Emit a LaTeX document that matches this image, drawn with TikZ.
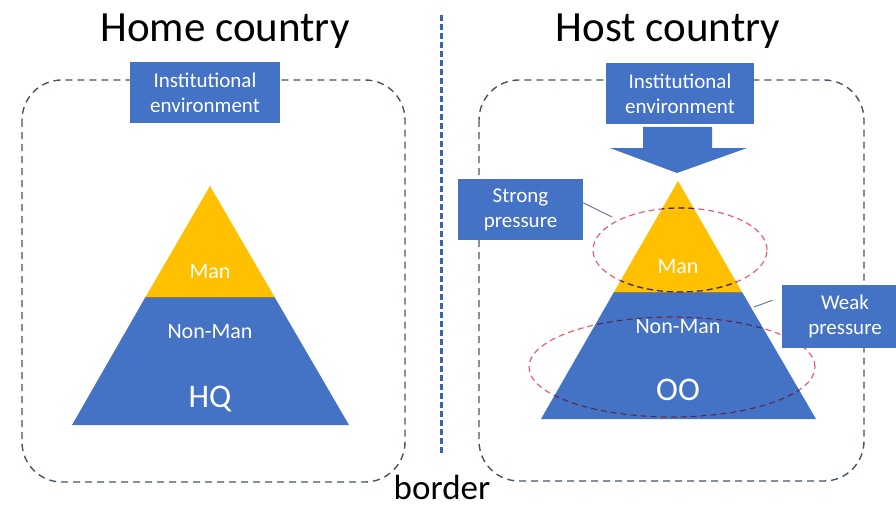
\documentclass[tikz,border=0pt]{standalone}
\usepackage{fontspec}
\setmainfont{Carlito}
\definecolor{ublue}{HTML}{4472C4}
\definecolor{uorange}{HTML}{FFC000}
\definecolor{frame}{HTML}{44546A}
\definecolor{borderline}{HTML}{3B62B0}
\definecolor{ring}{HTML}{E8606A}
\definecolor{ringdark}{HTML}{2E3564}
\definecolor{leader}{HTML}{6F7B95}
\begin{document}
\begin{tikzpicture}[x=1pt,y=-1pt,
  region/.style={draw=frame, line width=1.4pt, dash pattern=on 7pt off 5pt, rounded corners=40pt},
  bluebox/.style={fill=ublue, text=white, font=\fontsize{21}{25}\selectfont, align=center, inner sep=0pt},
  title/.style={font=\fontsize{43}{50}\selectfont, anchor=base},
  layer/.style={text=white, font=\fontsize{22}{26}\selectfont, anchor=base},
  unit/.style={text=white, font=\fontsize{33}{38}\selectfont, anchor=base},
  ring/.style={draw=ring, line width=1.2pt, dash pattern=on 6pt off 4pt},
  ringin/.style={draw=ringdark, line width=1.2pt, dash pattern=on 6pt off 4pt},
  leader/.style={draw=leader, line width=1pt}
]
\clip (0,0) rectangle (896,508);
\useasboundingbox (0,0) rectangle (896,508);

% headings
\node[title] (home) at (225,42) {Home country};
\node[title] (host) at (668,42) {Host country};

% national border
\draw[draw=borderline, line width=3pt, dash pattern=on 6pt off 3pt] (441,15) -- (441,455);
\node[font=\fontsize{35}{40}\selectfont, anchor=base] (border) at (442,499) {border};

% country frames
\draw[region] (22,80) rectangle (405,482);
\draw[region] (479,80) rectangle (864,481);

% institutional environment boxes
\node[bluebox, minimum width=150pt, minimum height=61pt] (envL) at (205,92.5) {Institutional\\environment};
\node[bluebox, minimum width=148pt, minimum height=61pt] (envR) at (680,93.5) {Institutional\\environment};

% block arrow from the host environment down to the pyramid
\fill[ublue] (643,127) -- (712,127) -- (712,148) -- (747,148) -- (677,173)
  -- (610,148) -- (643,148) -- cycle;

% headquarters pyramid
\fill[ublue] (72,425) -- (349,425) -- (274.5,297) -- (145.5,297) -- cycle;
\fill[uorange] (145.5,297) -- (274.5,297) -- (210,186) -- cycle;
\draw[frame!60!uorange, line width=0.8pt] (145.5,297) -- (274.5,297);
\node[layer] (manL) at (210,278) {Man};
\node[layer] (nonL) at (210,338) {Non-Man};
\node[unit] (hq) at (210,407) {HQ};

% overseas operation pyramid
\fill[ublue] (541,419) -- (816,419) -- (742,292) -- (614,292) -- cycle;
\fill[uorange] (614,292) -- (742,292) -- (678,181) -- cycle;
\draw[frame!60!uorange, line width=0.8pt] (614,292) -- (742,292);

% pressure rings
\draw[ring] (680,250) ellipse [x radius=87pt, y radius=42pt];
\draw[ring] (672,367) ellipse [x radius=143pt, y radius=50pt];
\begin{scope}
  \clip (541,419) -- (816,419) -- (678,181) -- cycle;
  \draw[ringin] (680,250) ellipse [x radius=87pt, y radius=42pt];
  \draw[ringin] (672,367) ellipse [x radius=143pt, y radius=50pt];
\end{scope}

\node[layer] (manR) at (678,273) {Man};
\node[layer] (nonR) at (678,333) {Non-Man};
\node[unit] (oo) at (678,400) {OO};

% pressure labels and their leaders
\node[bluebox, minimum width=125pt, minimum height=61pt] (strong) at (520.5,209.5) {Strong\\pressure};
\node[bluebox, minimum width=126pt, minimum height=63pt] (weak) at (845,316.5) {Weak\\pressure};
\coordinate (strongend) at (612,217);
\coordinate (weakend) at (754,307);
\draw[leader] ([yshift=-24pt]strong.north east) -- (strongend);
\draw[leader, shorten <=10pt] ([yshift=-12pt]weak.north west) -- (weakend);
\end{tikzpicture}
\end{document}
